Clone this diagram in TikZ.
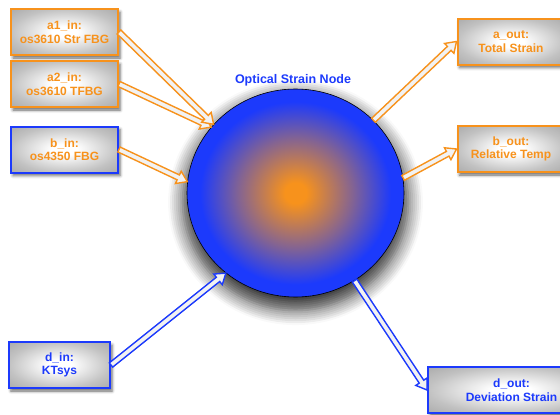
\documentclass[tikz,border=0pt]{standalone}
\usepackage{fontspec}
\setmainfont{Liberation Sans}
\usepackage{tikz}
\usetikzlibrary{shapes.geometric,calc,shadows.blur}
\usepackage{xcolor}
\definecolor{sorange}{RGB}{247,146,28}
\definecolor{sblue}{RGB}{28,58,252}
\pgfdeclareradialshading{ballfill}{\pgfpoint{0bp}{0bp}}{color(0bp)=(sorange); color(2.5bp)=(sorange); color(13bp)=(sorange!48!sblue); color(22bp)=(sblue); color(50bp)=(sblue)}
\pgfdeclareradialshading{boxfill}{\pgfpoint{0bp}{0bp}}{color(0bp)=(white); color(6bp)=(white); color(25bp)=(gray!48); color(35bp)=(gray!65); color(50bp)=(gray!65)}
\newcommand{\flowarrow}[3]{%
  \coordinate (fa-neck) at ($(#3)!10pt!(#2)$);
  \filldraw[draw=#1, fill=white!90!gray, line width=1.4pt, line join=miter]
    ($(#2)!2.7pt!90:(#3)$) -- ($(fa-neck)!2.7pt!90:(#3)$) -- ($(fa-neck)!6.8pt!90:(#3)$) -- (#3)
    -- ($(fa-neck)!6.8pt!-90:(#3)$) -- ($(fa-neck)!2.7pt!-90:(#3)$) -- ($(#2)!2.7pt!-90:(#3)$) -- cycle;
}
\tikzset{
  portbox/.style={rectangle, line width=2pt, shading=boxfill, minimum width=107pt, minimum height=46pt, inner sep=2pt, align=center, font=\bfseries\fontsize{12}{13.5}\selectfont, blur shadow={shadow xshift=2pt, shadow yshift=-3pt, shadow blur radius=3pt, shadow opacity=60}},
  orangeport/.style={portbox, draw=sorange, text=sorange},
  blueport/.style={portbox, draw=sblue, text=sblue}
}

\begin{document}
\begin{tikzpicture}[x=1pt,y=-1pt]
        \useasboundingbox (0,0) rectangle (560,415);
        \clip (0,0) rectangle (560,415);

        % Strain node
        \node[ellipse, draw=black, line width=0.6pt, shading=ballfill, minimum width=217pt, minimum height=208pt, inner sep=0pt, blur shadow={shadow xshift=0pt, shadow yshift=-9pt, shadow scale=1.04, shadow blur radius=14pt, shadow blur steps=8, shadow opacity=80}] (osn) at (295.5,193) {};
        \node[text=sblue, font=\bfseries\fontsize{12.5}{14}\selectfont] (title) at (293,80) {Optical Strain Node};

        % Inputs
        \node[orangeport] (a1in) at (64.5,32) {a1\_in:\\os3610 Str FBG};
        \node[orangeport] (a2in) at (64.5,84) {a2\_in:\\os3610 TFBG};
        \node[portbox, draw=sblue, text=sorange] (bin) at (64.5,149.5) {b\_in:\\os4350 FBG};
        \node[blueport, minimum width=101pt] (din) at (59.5,365) {d\_in:\\KTsys};

        % Outputs
        \node[orangeport] (aout) at (511,41.5) {a\_out:\\Total Strain};
        \node[orangeport] (bout) at (511,149) {b\_out:\\Relative Temp};
        \node[blueport, minimum width=167pt] (dout) at (511.5,390) {d\_out:\\Deviation Strain};

        % Connectors
        \flowarrow{sorange}{a2in.east}{osn.142}
        \flowarrow{sorange}{a1in.east}{osn.140}
        \flowarrow{sorange}{bin.east}{osn.174}
        \flowarrow{sblue}{din.east}{osn.229}
        \flowarrow{sorange}{osn.43}{aout.west}
        \flowarrow{sorange}{osn.8}{bout.west}
        \flowarrow{sblue}{osn.-56}{dout.west}
    \end{tikzpicture}
\end{document}
